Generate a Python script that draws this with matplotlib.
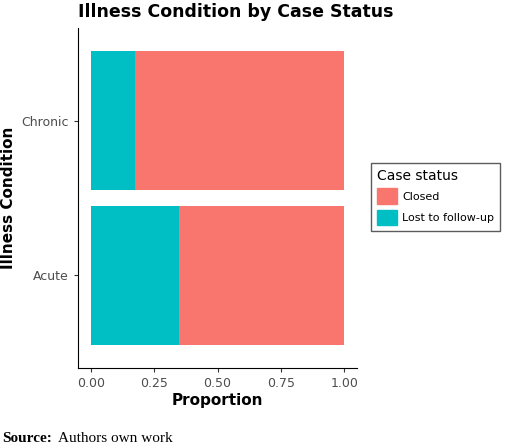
import matplotlib
matplotlib.use("Agg")
import matplotlib.pyplot as plt
from matplotlib.patches import Patch

categories = ["Acute", "Chronic"]
lost = [0.35, 0.175]
closed = [1 - v for v in lost]
ticks = [0.0, 0.25, 0.5, 0.75, 1.0]
tick_labels = ["0.00", "0.25", "0.50", "0.75", "1.00"]

fig = plt.figure(figsize=(5.2, 4.48), dpi=100)
ax = fig.add_axes([78/520, 1-368/448, (357-78)/520, (368-28)/448])
y = range(len(categories))
ax.barh(y, lost, height=0.9, color="#00BFC4")
ax.barh(y, closed, left=lost, height=0.9, color="#F8766D")
ax.set_xlim(-0.05, 1.05)
ax.set_ylim(-0.6, 1.6)
ax.set_yticks(list(y))
ax.set_yticklabels(categories, fontsize=9, color="#4d4d4d")
ax.set_xticks(ticks)
ax.set_xticklabels(tick_labels, fontsize=9, color="#4d4d4d")
for s in ["top", "right"]:
    ax.spines[s].set_visible(False)
ax.spines["left"].set_color("black")
ax.spines["bottom"].set_color("black")
ax.tick_params(length=3, color="#333333")
ax.set_xlabel("Proportion", fontsize=11, fontweight="bold", labelpad=2)
ax.set_ylabel("Illness Condition", fontsize=11, fontweight="bold", labelpad=4)
fig.text(78/520, 1-12/448, "Illness Condition by Case Status", fontsize=12.5,
         fontweight="bold", va="center", ha="left")
handles = [Patch(color="#F8766D", label="Closed"), Patch(color="#00BFC4", label="Lost to follow-up")]
leg = fig.legend(handles=handles, title="Case status", loc="center left",
                 bbox_to_anchor=(371/520, 1-197/448), fontsize=8, title_fontsize=10,
                 frameon=True, fancybox=False, edgecolor="#333333",
                 handlelength=1.8, handleheight=1.8, handletextpad=0.5,
                 borderpad=0.5, borderaxespad=0, alignment="left")
fig.text(2/520, 1-438/448, "Source:", fontsize=11, fontweight="bold",
         family="Liberation Serif", va="center", ha="left")
fig.text(58/520, 1-438/448, "Authors own work", fontsize=11,
         family="Liberation Serif", va="center", ha="left")
fig.savefig("out.png", dpi=100)
